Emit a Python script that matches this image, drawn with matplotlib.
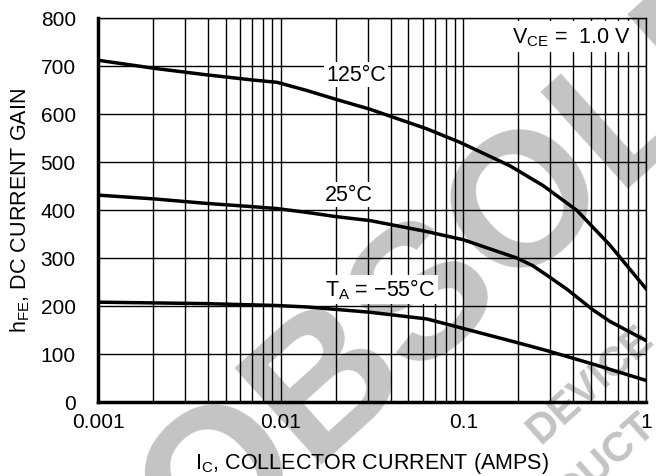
import numpy as np
import matplotlib
matplotlib.use("Agg")
import matplotlib.pyplot as plt
from matplotlib.ticker import FixedLocator, NullFormatter

plt.rcParams['font.family'] = ['Liberation Sans', 'DejaVu Sans']

# collector current (A) and DC current gain
ic_125 = [0.001, 0.00205, 0.00385, 0.00697, 0.00955, 0.0139, 0.0203, 0.0308, 0.0632,
          0.0958, 0.18, 0.273, 0.419, 0.634, 1.0]
hfe_125 = [712, 695, 682, 671, 666, 649, 630, 610, 569, 541, 492, 451, 399, 327, 236]

ic_25 = [0.001, 0.00205, 0.00385, 0.00697, 0.00955, 0.0139, 0.0203, 0.0308, 0.0632,
         0.1, 0.196, 0.24, 0.287, 0.369, 0.512, 0.634, 1.0]
hfe_25 = [431, 423, 414, 407, 403, 395, 386, 378, 355, 338, 300, 284, 264, 235, 192, 168, 128]

ic_m55 = [0.001, 0.00385, 0.00955, 0.0139, 0.0308, 0.0632, 0.0958, 0.196, 0.287, 0.512, 1.0]
hfe_m55 = [208, 205, 201, 198, 187, 173, 155, 124, 107, 79, 45]

x_ticks = [0.001, 0.01, 0.1, 1]
x_tick_labels = ['0.001', '0.01', '0.1', '1']
y_ticks = [0, 100, 200, 300, 400, 500, 600, 700, 800]

fig = plt.figure(figsize=(6.56, 4.77), dpi=100)

# faint watermark behind the chart
wm = '#c4c4c4'
fig.text(557/656, 1 - 180/477, 'OBSOLETE', fontsize=137, fontweight='bold', color=wm,
         rotation=42, rotation_mode='anchor', ha='center', va='center', zorder=-5)
fig.text(590/656, 1 - 385/477, 'DEVICE', fontsize=30, fontweight='bold', color=wm,
         rotation=42, rotation_mode='anchor', ha='center', va='center', zorder=-5)
fig.text(650/656, 1 - 420/477, 'PRODUCT', fontsize=30, fontweight='bold', color=wm,
         rotation=42, rotation_mode='anchor', ha='right', va='center', zorder=-5)

ax = fig.add_axes([98/656, 74/477, 548/656, 384/477])
ax.set_facecolor('none')
ax.set_xscale('log')
ax.set_xlim(0.001, 1)
ax.set_ylim(0, 800)

minors = [m * d for d in [0.001, 0.01, 0.1] for m in range(2, 10)]
ax.xaxis.set_major_locator(FixedLocator(x_ticks))
ax.xaxis.set_minor_locator(FixedLocator(minors))
ax.xaxis.set_minor_formatter(NullFormatter())
ax.set_xticks(x_ticks)
ax.set_xticklabels(x_tick_labels)
ax.set_yticks(y_ticks)
ax.tick_params(axis='both', which='both', length=0, labelsize=15)
ax.tick_params(axis='x', pad=7)
ax.tick_params(axis='y', pad=16)

ax.grid(True, which='both', axis='x', color='black', lw=1.0, zorder=1)
ax.grid(True, which='major', axis='y', color='black', lw=1.0, zorder=1)

for s in ['top', 'right']:
    ax.spines[s].set_linewidth(1.0)
for s in ['left', 'bottom']:
    ax.spines[s].set_linewidth(2.5)

ax.plot(ic_125, hfe_125, color='black', lw=2.5, zorder=3)
ax.plot(ic_25, hfe_25, color='black', lw=2.5, zorder=3)
ax.plot(ic_m55, hfe_m55, color='black', lw=2.5, zorder=3)

box = dict(facecolor='white', edgecolor='none', pad=1.5)
fs = 15.5
ax.text(0.0258, 683, '125°C', fontsize=fs, ha='center', va='center', bbox=box, zorder=4)
ax.text(0.0235, 433, '25°C', fontsize=fs, ha='center', va='center', bbox=box, zorder=4)
ax.text(0.0351, 235, '$\\mathregular{T_A}$ = \u221255°C', fontsize=fs, ha='center', va='center',
        bbox=box, zorder=4)
ax.text(0.82, 762, '$\\mathregular{V_{CE}}$ =  1.0 V', fontsize=fs, ha='right', va='center',
        bbox=dict(facecolor='white', edgecolor='none', pad=3), zorder=4)

ax.set_xlabel('$\\mathregular{I_C}$, COLLECTOR CURRENT (AMPS)', fontsize=fs, labelpad=14)
ax.set_ylabel('$\\mathregular{h_{FE}}$, DC CURRENT GAIN', fontsize=fs, labelpad=6)

fig.savefig('out.png', dpi=100)
